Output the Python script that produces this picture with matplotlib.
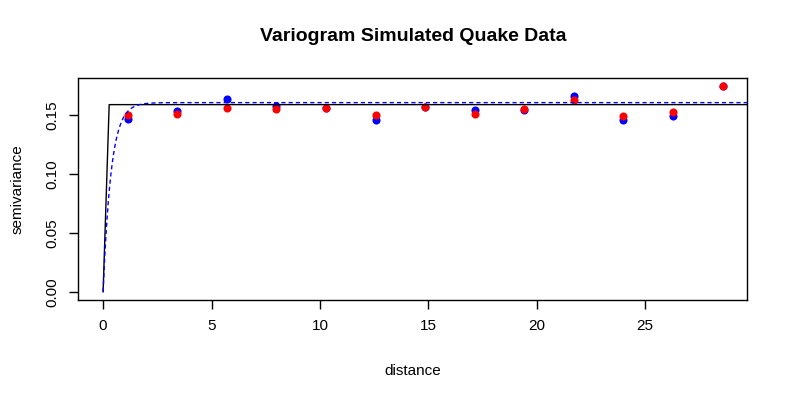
import numpy as np
import matplotlib
matplotlib.use("Agg")
import matplotlib.pyplot as plt

plt.rcParams['font.family'] = ['Liberation Sans', 'DejaVu Sans']

dist = [1.15, 3.42, 5.71, 7.98, 10.28, 12.6, 14.86, 17.17, 19.43, 21.74, 24.0, 26.3, 28.57]
gamma_blue = [0.1468, 0.1533, 0.1635, 0.1579, 0.1559, 0.1462, 0.1573, 0.1542, 0.1548, 0.1667, 0.1460, 0.1497, 0.1744]
gamma_red = [0.1505, 0.1513, 0.1565, 0.1556, 0.1559, 0.1505, 0.1573, 0.1513, 0.1556, 0.1627, 0.1497, 0.1531, 0.1744]

# fitted models
lin_sill, lin_range = 0.159, 0.28
exp_sill, exp_range = 0.1607, 0.37

h = np.linspace(0, 30, 3001)
lin_model = np.minimum(h / lin_range, 1.0) * lin_sill
exp_model = exp_sill * (1 - np.exp(-h / exp_range))

fig = plt.figure(figsize=(7.88, 3.98), dpi=100)
ax = fig.add_axes([0.0994, 0.2462, 0.8490, 0.5571])

ax.scatter(dist, gamma_blue, s=34, color='blue', zorder=3, linewidths=0)
ax.scatter(dist, gamma_red, s=34, color='red', zorder=4, linewidths=0)
ax.plot(h, lin_model, color='black', lw=1, zorder=5)
ax.plot(h, exp_model, color='blue', lw=1, ls=(0, (3, 2.2)), zorder=5)

xmax = max(dist)
ymax = max(max(gamma_blue), max(gamma_red))
ax.set_xlim(-0.04 * xmax, xmax * 1.04)
ax.set_ylim(-0.04 * ymax, ymax * 1.04)

ax.set_xticks([0, 5, 10, 15, 20, 25])
ax.set_yticks([0.0, 0.05, 0.10, 0.15])
ax.set_yticklabels(['0.00', '0.05', '0.10', '0.15'])
ax.tick_params(length=6.7, width=1, labelsize=11, pad=7)
ax.tick_params(axis='y', labelrotation=90)
for lab in ax.get_yticklabels():
    lab.set_va('center')
for s in ax.spines.values():
    s.set_linewidth(1)

ax.set_xlabel('distance', fontsize=11, labelpad=22)
ax.set_ylabel('semivariance', fontsize=11, labelpad=15)
ax.set_title('Variogram Simulated Quake Data', fontsize=14, fontweight='bold', pad=27)

fig.savefig('out.png', dpi=100)
